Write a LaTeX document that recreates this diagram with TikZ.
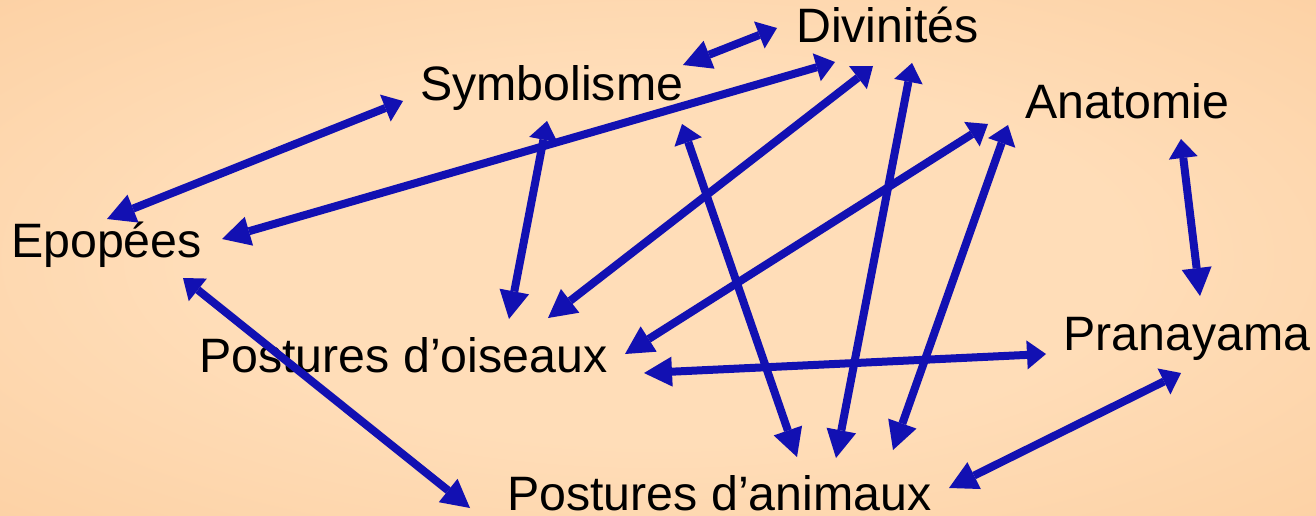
\documentclass[tikz,border=0pt]{standalone}
\usepackage{fontspec}
\setmainfont{Liberation Sans}
\usetikzlibrary{arrows.meta}
\definecolor{arrowblue}{RGB}{18,16,178}
\definecolor{bginner}{RGB}{255,221,184}
\definecolor{bgouter}{RGB}{247,186,126}
\pgfdeclareradialshading{bgshade}{\pgfpoint{0bp}{0bp}}{color(0bp)=(bginner); color(18bp)=(bginner); color(72bp)=(bgouter)}
\tikzset{
  label/.style={anchor=base west, inner sep=0pt, font=\fontsize{48.3}{56}\selectfont, text=black},
  conn/.style={line width=8pt, draw=arrowblue,
    arrows={Triangle[length=28pt,width=30pt,line width=0pt]-Triangle[length=19pt,width=29pt,line width=0pt]}},
}
\begin{document}
\begin{tikzpicture}[x=1pt,y=-1pt]
\useasboundingbox (0,0) rectangle (1316,516);
\shade[shading=bgshade] (0,0) rectangle (1316,516);
% labels
\node[label] (div) at (796,43) {Divinités};
\node[label] (sym) at (420,101) {Symbolisme};
\node[label] (ana) at (1025,119) {Anatomie};
\node[label] (epo) at (11,257) {Epopées};
\node[label] (ois) at (199,372) {Postures d’oiseaux};
\node[label] (pra) at (1063,350) {Pranayama};
\node[label] (ani) at (507,510) {Postures d’animaux};
% connector ends
\coordinate (symA) at (683,65);   \coordinate (divA) at (777,28);
\coordinate (epoB) at (107,219);  \coordinate (symB) at (403,101);
\coordinate (epoC) at (222,239);  \coordinate (divC) at (835,62);
\coordinate (oisD) at (548,318);  \coordinate (divD) at (873,66);
\coordinate (oisE) at (509,319);  \coordinate (symE) at (547,121);
\coordinate (aniF) at (797,457);  \coordinate (symF) at (682,124);
\coordinate (aniG) at (836,458);  \coordinate (divG) at (912,63);
\coordinate (oisH) at (625,354);  \coordinate (anaH) at (988,124);
\coordinate (aniI) at (893,450);  \coordinate (anaI) at (1008,125);
\coordinate (praJ) at (1200,296); \coordinate (anaJ) at (1181,139);
\coordinate (oisK) at (644,373);  \coordinate (praK) at (1046,354);
\coordinate (aniL) at (949,488);  \coordinate (praL) at (1181,373);
\coordinate (aniM) at (470,508);  \coordinate (epoM) at (183,278);
% connectors
\draw[conn] (symA) -- (divA);
\draw[conn] (epoB) -- (symB);
\draw[conn] (epoC) -- (divC);
\draw[conn] (oisD) -- (divD);
\draw[conn] (oisE) -- (symE);
\draw[conn] (aniF) -- (symF);
\draw[conn] (aniG) -- (divG);
\draw[conn] (oisH) -- (anaH);
\draw[conn] (aniI) -- (anaI);
\draw[conn] (praJ) -- (anaJ);
\draw[conn] (oisK) -- (praK);
\draw[conn] (aniL) -- (praL);
\draw[conn] (aniM) -- (epoM);
\end{tikzpicture}
\end{document}
